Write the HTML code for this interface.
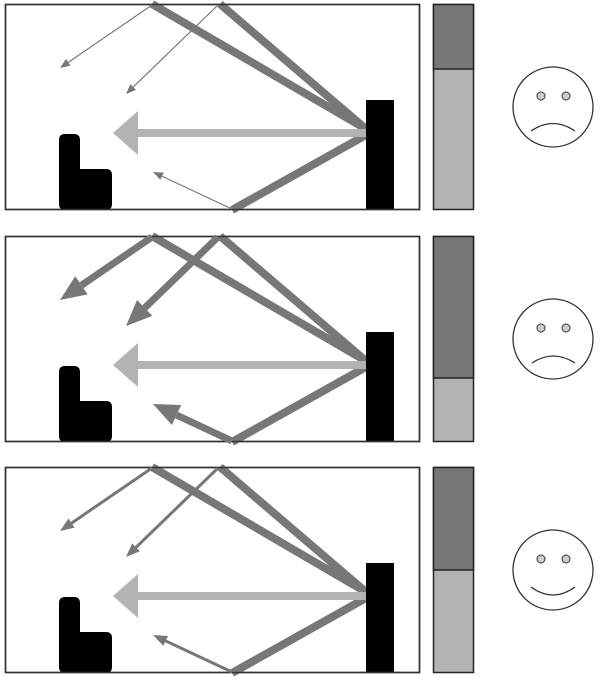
<!DOCTYPE html>
<html><head><style>html,body{margin:0;padding:0;background:#fff;}svg{display:block}</style></head>
<body>
<svg width="600" height="679" viewBox="0 0 600 679" xmlns="http://www.w3.org/2000/svg">
<g transform="translate(0,0)">
<rect x="5.5" y="4.5" width="414" height="205" fill="#fff" stroke="#333" stroke-width="1.5"/>
<line x1="366" y1="129" x2="152" y2="4" stroke="#777" stroke-width="8"/>
<line x1="366" y1="129" x2="220" y2="4" stroke="#777" stroke-width="8"/>
<line x1="366" y1="135" x2="232" y2="210" stroke="#777" stroke-width="8"/>
<rect x="130" y="129" width="236" height="8" fill="#b3b3b3"/>
<polygon points="113,133 138,111 138,155" fill="#b3b3b3"/>
<rect x="366" y="100" width="28" height="110" fill="#000"/>
<path d="M59,140 Q59,134 65,134 L74,134 Q80,134 80,140 L80,169 L106,169 Q112,169 112,175 L112,204 Q112,210 106,210 L65,210 Q59,210 59,204 Z" fill="#000"/>
<rect x="5.5" y="4.5" width="414" height="205" fill="none" stroke="#333" stroke-width="1.5"/>
<circle cx="553" cy="107" r="40" fill="#fff" stroke="#333" stroke-width="1.3"/>
<circle cx="541" cy="96" r="4" fill="#ccc" stroke="#333" stroke-width="1"/>
<circle cx="566" cy="96" r="4" fill="#ccc" stroke="#333" stroke-width="1"/>
</g>
<g transform="translate(0,232)">
<rect x="5.5" y="4.5" width="414" height="205" fill="#fff" stroke="#333" stroke-width="1.5"/>
<line x1="366" y1="129" x2="152" y2="4" stroke="#777" stroke-width="8"/>
<line x1="366" y1="129" x2="220" y2="4" stroke="#777" stroke-width="8"/>
<line x1="366" y1="135" x2="232" y2="210" stroke="#777" stroke-width="8"/>
<rect x="130" y="129" width="236" height="8" fill="#b3b3b3"/>
<polygon points="113,133 138,111 138,155" fill="#b3b3b3"/>
<rect x="366" y="100" width="28" height="110" fill="#000"/>
<path d="M59,140 Q59,134 65,134 L74,134 Q80,134 80,140 L80,169 L106,169 Q112,169 112,175 L112,204 Q112,210 106,210 L65,210 Q59,210 59,204 Z" fill="#000"/>
<rect x="5.5" y="4.5" width="414" height="205" fill="none" stroke="#333" stroke-width="1.5"/>
<circle cx="553" cy="107" r="40" fill="#fff" stroke="#333" stroke-width="1.3"/>
<circle cx="541" cy="96" r="4" fill="#ccc" stroke="#333" stroke-width="1"/>
<circle cx="566" cy="96" r="4" fill="#ccc" stroke="#333" stroke-width="1"/>
</g>
<g transform="translate(0,463)">
<rect x="5.5" y="4.5" width="414" height="205" fill="#fff" stroke="#333" stroke-width="1.5"/>
<line x1="366" y1="129" x2="152" y2="4" stroke="#777" stroke-width="8"/>
<line x1="366" y1="129" x2="220" y2="4" stroke="#777" stroke-width="8"/>
<line x1="366" y1="135" x2="232" y2="210" stroke="#777" stroke-width="8"/>
<rect x="130" y="129" width="236" height="8" fill="#b3b3b3"/>
<polygon points="113,133 138,111 138,155" fill="#b3b3b3"/>
<rect x="366" y="100" width="28" height="110" fill="#000"/>
<path d="M59,140 Q59,134 65,134 L74,134 Q80,134 80,140 L80,169 L106,169 Q112,169 112,175 L112,204 Q112,210 106,210 L65,210 Q59,210 59,204 Z" fill="#000"/>
<rect x="5.5" y="4.5" width="414" height="205" fill="none" stroke="#333" stroke-width="1.5"/>
<circle cx="553" cy="107" r="40" fill="#fff" stroke="#333" stroke-width="1.3"/>
<circle cx="541" cy="96" r="4" fill="#ccc" stroke="#333" stroke-width="1"/>
<circle cx="566" cy="96" r="4" fill="#ccc" stroke="#333" stroke-width="1"/>
</g>

<rect x="433.5" y="4.5" width="40" height="205" fill="#b3b3b3" stroke="#222" stroke-width="1.5"/>
<rect x="433.5" y="4.5" width="40" height="64.5" fill="#777" stroke="#222" stroke-width="1.5"/>
<line x1="152" y1="5" x2="68.25" y2="62.35" stroke="#777" stroke-width="1.2"/>
<polygon points="60,68 65.99,59.05 70.51,65.65" fill="#777"/>
<line x1="218" y1="5" x2="133.19" y2="87.05" stroke="#777" stroke-width="1.2"/>
<polygon points="126,94 130.41,84.17 135.97,89.93" fill="#777"/>
<line x1="232" y1="209" x2="162.06" y2="176.24" stroke="#777" stroke-width="1.2"/>
<polygon points="153,172 163.76,172.62 160.36,179.86" fill="#777"/>
<path d="M531,131 Q553,116 575,131" fill="none" stroke="#333" stroke-width="1.3"/>

<rect x="433.5" y="236.5" width="40" height="205" fill="#b3b3b3" stroke="#222" stroke-width="1.5"/>
<rect x="433.5" y="236.5" width="40" height="141.5" fill="#777" stroke="#222" stroke-width="1.5"/>
<line x1="152" y1="237" x2="81.45" y2="285.31" stroke="#777" stroke-width="7"/>
<polygon points="60,300 75.23,276.23 87.67,294.39" fill="#777"/>
<line x1="218" y1="237" x2="144.69" y2="307.93" stroke="#777" stroke-width="7"/>
<polygon points="126,326 137.04,300.02 152.34,315.84" fill="#777"/>
<line x1="232" y1="441" x2="176.56" y2="415.02" stroke="#777" stroke-width="7"/>
<polygon points="153,404 181.22,405.05 171.90,424.99" fill="#777"/>
<path d="M532,363 Q553,349 575,363" fill="none" stroke="#333" stroke-width="1.3"/>

<rect x="433.5" y="467.5" width="40" height="205" fill="#b3b3b3" stroke="#222" stroke-width="1.5"/>
<rect x="433.5" y="467.5" width="40" height="102.5" fill="#777" stroke="#222" stroke-width="1.5"/>
<line x1="152" y1="468" x2="71.55" y2="523.09" stroke="#777" stroke-width="3"/>
<polygon points="60,531 68.44,518.55 74.66,527.63" fill="#777"/>
<line x1="218" y1="468" x2="136.07" y2="547.27" stroke="#777" stroke-width="3"/>
<polygon points="126,557 132.25,543.32 139.89,551.22" fill="#777"/>
<line x1="232" y1="672" x2="165.68" y2="640.94" stroke="#777" stroke-width="3"/>
<polygon points="153,635 168.01,635.96 163.35,645.92" fill="#777"/>
<path d="M531,587 Q553,603 575,587" fill="none" stroke="#333" stroke-width="1.3"/>
</svg>
</body></html>
